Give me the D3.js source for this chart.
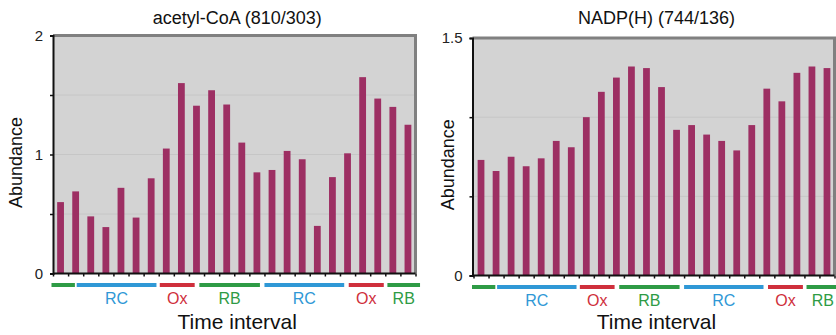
<!DOCTYPE html>
<html>
<head>
<meta charset="utf-8">
<script src="https://cdn.jsdelivr.net/npm/d3@7"></script>
<style>
  html, body { margin: 0; padding: 0; background: #ffffff; }
  svg { display: block; font-family: "Liberation Sans", Arial, Helvetica, sans-serif; }
</style>
</head>
<body>
<svg id="chart" width="836" height="335"></svg>
<script>
// Time intervals (one bar per interval)
const intervals = [1, 2, 3, 4, 5, 6, 7, 8, 9, 10, 11, 12, 13, 14, 15, 16, 17, 18, 19, 20, 21, 22, 23, 24];

// Metabolite abundance per interval
const acetylCoA = [0.60, 0.69, 0.48, 0.39, 0.72, 0.47, 0.80, 1.05, 1.60, 1.41, 1.54, 1.42,
                   1.10, 0.85, 0.87, 1.03, 0.96, 0.40, 0.81, 1.01, 1.65, 1.47, 1.40, 1.25];
const nadph = [0.73, 0.66, 0.75, 0.69, 0.74, 0.85, 0.81, 1.00, 1.16, 1.25, 1.32, 1.31,
               1.19, 0.92, 0.95, 0.89, 0.85, 0.79, 0.95, 1.18, 1.10, 1.28, 1.32, 1.31];

// Metabolic cycle phases along the time-interval axis (in interval units)
const phaseNames  = ["RB", "RC", "Ox", "RB", "RC", "Ox", "RB"];
const phaseLabels = ["", "RC", "Ox", "RB", "RC", "Ox", "RB"];
const phaseStart  = [-0.1, 1.57, 7.07, 9.69, 14.0, 19.58, 22.14];
const phaseEnd    = [1.45, 6.85, 9.38, 13.7, 19.28, 21.9, 24.3];
const phaseColors = { RB: "#2e9b45", RC: "#2f98d6", Ox: "#cf2f3c" };

// Y-axis ticks per panel
const acetylTicks = [0, 0.5, 1, 1.5, 2];
const acetylTickLabels = ["0", "", "1", "", "2"];
const nadphTicks = [0, 0.5, 1, 1.5];
const nadphTickLabels = ["0", "", "", "1.5"];

const svg = d3.select("#chart");

const panels = [
  { title: "acetyl-CoA (810/303)", values: acetylCoA, ymax: 2, ticks: acetylTicks, tickLabels: acetylTickLabels,
    left: 53, barLeft: 53, right: 415.5, top: 35.5, bottom: 273.5, ylabelX: 21.5 },
  { title: "NADP(H) (744/136)", values: nadph, ymax: 1.5, ticks: nadphTicks, tickLabels: nadphTickLabels,
    left: 472.5, barLeft: 473.5, right: 834.5, top: 38, bottom: 275.5, ylabelX: 453.5 }
];

panels.forEach(p => {
  const g = svg.append("g");
  const x = d3.scaleBand().domain(intervals).range([p.barLeft, p.right]).paddingInner(0.55).paddingOuter(0.275);
  const xb = d3.scaleBand().domain(intervals).range([p.barLeft, p.right]);
  const xi = d3.scaleLinear().domain([0, intervals.length]).range([p.barLeft, p.right]);
  const y = d3.scaleLinear().domain([0, p.ymax]).range([p.bottom, p.top]);

  // plot background
  g.append("rect")
    .attr("x", p.left).attr("y", p.top)
    .attr("width", p.right - p.left).attr("height", p.bottom - p.top)
    .attr("fill", "#d3d3d3");

  // horizontal grid lines
  g.append("g").selectAll("line")
    .data(p.ticks.filter(t => t > 0 && t < p.ymax))
    .join("line")
    .attr("x1", p.left).attr("x2", p.right)
    .attr("y1", d => y(d)).attr("y2", d => y(d))
    .attr("stroke", "#c6c6c6").attr("stroke-width", 1);

  // bars
  g.append("g").selectAll("rect")
    .data(intervals)
    .join("rect")
    .attr("x", (d) => x(d))
    .attr("width", x.bandwidth())
    .attr("y", (d, i) => y(p.values[i]))
    .attr("height", (d, i) => y(0) - y(p.values[i]))
    .attr("fill", "#9d2f63");

  // top and right frame
  g.append("path")
    .attr("d", `M${p.left},${p.top}H${p.right}V${p.bottom}`)
    .attr("fill", "none").attr("stroke", "#808080").attr("stroke-width", 3);

  // y axis
  const yAxis = d3.axisLeft(y).tickValues(p.ticks)
    .tickFormat((d, i) => p.tickLabels[i]).tickSize(3).tickPadding(7);
  const ya = g.append("g").attr("transform", `translate(${p.left},0)`).call(yAxis);
  ya.select(".domain").attr("stroke", "#111").attr("stroke-width", 2);
  ya.selectAll(".tick line").attr("stroke", "#111").attr("stroke-width", 1.5);
  ya.selectAll(".tick text").attr("font-size", 15).attr("fill", "#222")
    .attr("font-family", "'Liberation Sans', Arial, sans-serif");

  // x axis: ticks at interval boundaries
  const bounds = d3.range(intervals.length + 1);
  const xa = g.append("g").attr("transform", `translate(0,${p.bottom})`)
    .call(d3.axisBottom(xi).tickValues(bounds).tickFormat("").tickSize(3).tickSizeOuter(0));
  xa.select(".domain").attr("stroke", "#111").attr("stroke-width", 2)
    .attr("d", `M${p.left},0H${p.right}`);
  xa.selectAll(".tick line").attr("stroke", "#111").attr("stroke-width", 1.5);

  // phase bars and labels
  const ph = g.append("g");
  ph.selectAll("line")
    .data(phaseNames)
    .join("line")
    .attr("x1", (d, i) => Math.max(xi(phaseStart[i]), p.left - 2))
    .attr("x2", (d, i) => xi(phaseEnd[i]))
    .attr("y1", p.bottom + 11.5).attr("y2", p.bottom + 11.5)
    .attr("stroke", d => phaseColors[d]).attr("stroke-width", 4);
  ph.selectAll("text")
    .data(phaseNames)
    .join("text")
    .attr("x", (d, i) => xi((phaseStart[i] + phaseEnd[i]) / 2))
    .attr("y", p.bottom + 30.5)
    .attr("text-anchor", "middle")
    .attr("font-size", 16)
    .attr("fill", d => phaseColors[d])
    .text((d, i) => phaseLabels[i]);

  // titles
  const cx = (p.left + p.right) / 2 + 3;
  g.append("text").attr("x", cx).attr("y", 23.5).attr("text-anchor", "middle")
    .attr("font-size", 18).attr("fill", "#111").text(p.title);
  g.append("text").attr("x", cx).attr("y", 329).attr("text-anchor", "middle")
    .attr("font-size", 21).attr("fill", "#111").text("Time interval");
  g.append("text")
    .attr("transform", `translate(${p.ylabelX},${(p.top + p.bottom) / 2 + 8}) rotate(-90)`)
    .attr("text-anchor", "middle").attr("font-size", 18).attr("fill", "#111")
    .text("Abundance");
});
</script>
</body>
</html>
